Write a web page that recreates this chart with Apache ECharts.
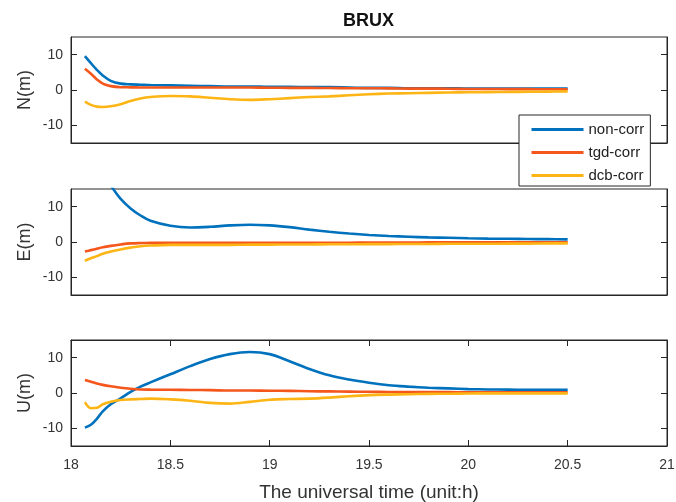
<!DOCTYPE html>
<html>
<head>
<meta charset="utf-8">
<script src="https://cdn.jsdelivr.net/npm/echarts@6/dist/echarts.min.js"></script>
<style>html,body{margin:0;padding:0;background:#fff}#c{width:676px;height:502px}</style>
</head>
<body>
<div id="c"></div>
<script>
var title = 'BRUX';
var seriesNames = ['non-corr', 'tgd-corr', 'dcb-corr'];
var panelNames = ['N(m)', 'E(m)', 'U(m)'];
var xTicks = [18, 18.5, 19, 19.5, 20, 20.5, 21];
var yTicks = [-10, 0, 10];
var time = [18.07, 18.1, 18.13, 18.16, 18.2, 18.25, 18.3, 18.35, 18.4, 18.5, 18.6, 18.7, 18.8, 18.9, 19.0, 19.1, 19.2, 19.3, 19.4, 19.5, 19.6, 19.7, 19.8, 19.9, 20.0, 20.1, 20.2, 20.3, 20.4, 20.5];

var nNon = [9.6, 7.6, 5.7, 4.1, 2.6, 1.8, 1.6, 1.5, 1.4, 1.3, 1.2, 1.1, 1.0, 1.0, 0.9, 0.9, 0.8, 0.8, 0.7, 0.6, 0.6, 0.5, 0.5, 0.5, 0.4, 0.4, 0.4, 0.4, 0.4, 0.4];
var nTgd = [6.0, 4.6, 3.0, 1.8, 1.1, 0.8, 0.75, 0.7, 0.7, 0.7, 0.7, 0.7, 0.7, 0.7, 0.65, 0.6, 0.6, 0.55, 0.5, 0.5, 0.45, 0.4, 0.4, 0.35, 0.3, 0.3, 0.25, 0.25, 0.2, 0.2];
var nDcb = [-3.3, -4.2, -4.7, -4.8, -4.6, -4.0, -3.1, -2.4, -2.0, -1.7, -1.8, -2.2, -2.6, -2.8, -2.6, -2.3, -2.0, -1.8, -1.5, -1.2, -1.0, -0.9, -0.8, -0.7, -0.65, -0.6, -0.55, -0.5, -0.45, -0.4];

var eNon = [32, 27, 23, 19.5, 16, 12.2, 9.5, 7.5, 6.0, 4.6, 4.1, 4.3, 4.7, 4.9, 4.7, 4.2, 3.5, 2.9, 2.4, 2.0, 1.7, 1.5, 1.3, 1.2, 1.05, 0.95, 0.9, 0.85, 0.8, 0.75];
var eTgd = [-2.7, -2.3, -1.9, -1.5, -1.1, -0.7, -0.4, -0.3, -0.25, -0.2, -0.2, -0.2, -0.2, -0.2, -0.2, -0.2, -0.2, -0.2, -0.2, -0.15, -0.15, -0.15, -0.1, -0.1, -0.1, -0.1, -0.1, -0.1, -0.1, -0.1];
var eDcb = [-5.3, -4.6, -4.0, -3.3, -2.7, -2.1, -1.6, -1.2, -1.0, -0.8, -0.8, -0.8, -0.8, -0.75, -0.75, -0.7, -0.7, -0.65, -0.65, -0.6, -0.6, -0.55, -0.55, -0.5, -0.5, -0.5, -0.45, -0.45, -0.4, -0.4];

var uNon = [-9.8, -9.0, -7.3, -5.2, -3.2, -1.5, 0.3, 1.8, 3.0, 5.3, 7.6, 9.6, 11.0, 11.6, 11.0, 9.0, 6.8, 5.0, 3.8, 2.9, 2.2, 1.8, 1.5, 1.3, 1.1, 1.0, 0.95, 0.9, 0.9, 0.9];
var uTgd = [3.7, 3.2, 2.7, 2.3, 1.9, 1.5, 1.2, 1.0, 0.95, 0.9, 0.85, 0.8, 0.7, 0.7, 0.65, 0.6, 0.5, 0.45, 0.4, 0.35, 0.3, 0.3, 0.25, 0.25, 0.2, 0.2, 0.2, 0.2, 0.2, 0.2];
var uDcb = [-2.6, -4.3, -4.2, -3.2, -2.5, -2.0, -1.8, -1.7, -1.6, -1.8, -2.2, -2.8, -3.0, -2.5, -1.9, -1.7, -1.6, -1.3, -0.9, -0.6, -0.45, -0.35, -0.25, -0.2, -0.15, -0.1, -0.1, -0.1, -0.1, -0.1];

var panels = [[nNon, nTgd, nDcb], [eNon, eTgd, eDcb], [uNon, uTgd, uDcb]];
var colors = ['#0072BD', '#F4561C', '#FDB515'];
var axisColor = '#262626';
var textColor = '#333333';
var font = 'Liberation Sans, Arial, sans-serif';

var grids = [
  {left: 71, right: 9, top: 37, height: 106},
  {left: 71, right: 9, top: 189, height: 106},
  {left: 71, right: 9, top: 340, height: 106}
];
grids.forEach(function (g) {
  g.show = true; g.borderColor = axisColor; g.borderWidth = 1; g.backgroundColor = '#fff';
  g.containLabel = false; g.outerBoundsMode = 'none';
});

var xAxes = [], yAxes = [], series = [];
for (var p = 0; p < 3; p++) {
  var bottom = (p === 2);
  xAxes.push({
    type: 'value', gridIndex: p, min: 18, max: 21, interval: 0.5,
    axisLine: {show: true, onZero: false, lineStyle: {color: axisColor, width: 1}},
    axisTick: {show: bottom, inside: true, length: 6, lineStyle: {color: axisColor}},
    axisLabel: {show: bottom, margin: 12, fontSize: 14, color: textColor, fontFamily: font},
    splitLine: {show: false},
    name: bottom ? 'The universal time (unit:h)' : '',
    nameLocation: 'middle', nameGap: 37, nameMoveOverlap: false,
    nameTextStyle: {fontSize: 19, color: textColor, fontFamily: font}
  });
  yAxes.push({
    type: 'value', gridIndex: p, min: -15, max: 15,
    axisLine: {show: true, onZero: false, lineStyle: {color: axisColor, width: 1}},
    axisTick: {show: true, inside: true, length: 6, customValues: yTicks, lineStyle: {color: axisColor}},
    axisLabel: {show: true, margin: 8, fontSize: 14, color: textColor, fontFamily: font, customValues: yTicks},
    splitLine: {show: false},
    name: panelNames[p], nameLocation: 'middle', nameGap: 37, nameRotate: 90, nameMoveOverlap: false,
    nameTextStyle: {fontSize: 18, color: textColor, fontFamily: font}
  });
}
// box axes: right-side y ticks and top x ticks on the bottom panel
for (var p = 0; p < 3; p++) {
  yAxes.push({
    type: 'value', gridIndex: p, min: -15, max: 15, position: 'right',
    axisLine: {show: true, onZero: false, lineStyle: {color: axisColor, width: 1}},
    axisTick: {show: true, inside: true, length: 6, customValues: yTicks, lineStyle: {color: axisColor}},
    axisLabel: {show: false}, splitLine: {show: false}
  });
}
xAxes.push({
  type: 'value', gridIndex: 2, min: 18, max: 21, interval: 0.5, position: 'top',
  axisLine: {show: true, onZero: false, lineStyle: {color: axisColor, width: 1}},
  axisTick: {show: true, inside: true, length: 6, lineStyle: {color: axisColor}},
  axisLabel: {show: false}, splitLine: {show: false}
});

for (var p = 0; p < 3; p++) {
  for (var s = 0; s < 3; s++) {
    var vals = panels[p][s];
    series.push({
      type: 'line', name: seriesNames[s], xAxisIndex: p, yAxisIndex: p,
      data: time.map(function (t, i) { return [t, vals[i]]; }),
      showSymbol: false, symbol: 'none', smooth: 0.35, clip: true,
      lineStyle: {color: colors[s], width: 2.6},
      itemStyle: {color: colors[s]},
      z: 2 + s
    });
  }
}

var chart = echarts.init(document.getElementById('c'), null, {renderer: 'canvas'});
chart.setOption({
  animation: false,
  backgroundColor: '#ffffff',
  title: {text: title, left: 343, top: 12, padding: 0,
    textStyle: {fontSize: 18, fontWeight: 'bold', color: '#111', fontFamily: font}},
  legend: {
    data: seriesNames, orient: 'vertical', left: 519, top: 115,
    backgroundColor: '#ffffff', borderColor: axisColor, borderWidth: 1, borderRadius: 0,
    padding: [7, 6, 3, 11], itemGap: 8, itemWidth: 52, itemHeight: 14,
    itemStyle: {opacity: 0},
    lineStyle: {width: 3},
    textStyle: {fontSize: 15, color: '#222', fontFamily: font},
    z: 10
  },
  grid: grids,
  xAxis: xAxes,
  yAxis: yAxes,
  series: series
});
</script>
</body>
</html>
